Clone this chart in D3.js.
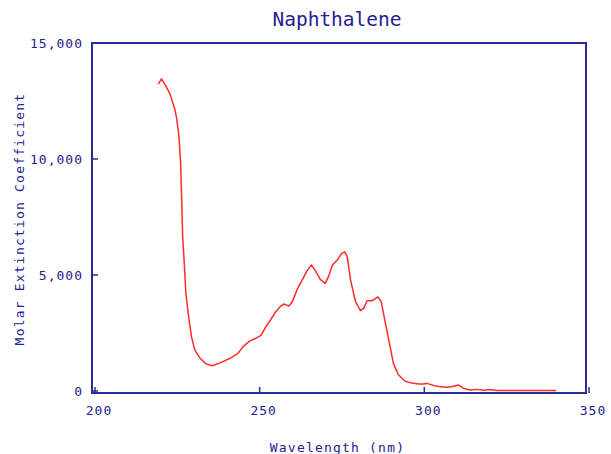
<!DOCTYPE html>
<html>
<head>
<meta charset="utf-8">
<script src="https://cdn.jsdelivr.net/npm/d3@7"></script>
<style>
  body { margin: 0; background: #fff; }
  text { font-family: "DejaVu Sans Mono", monospace; fill: #22228f; }
</style>
</head>
<body>
<script>
// Naphthalene absorption spectrum
const title = 'Naphthalene'
const xLabel = 'Wavelength (nm)'
const yLabel = 'Molar Extinction Coefficient'

const wavelength = [
  219.2, 220.2, 221.5, 222.7, 224.3, 224.8, 225.5, 226.0, 226.3, 226.6,
  227.1, 227.6, 228.3, 229.3, 230.3, 231.9, 233.8, 235.6, 237.8, 240.9,
  243.4, 244.9, 246.9, 248.5, 250.4, 251.9, 253.4, 254.9, 256.4, 257.4,
  258.9, 259.9, 261.4, 262.9, 264.4, 265.7, 266.9, 268.4, 269.9, 270.9,
  272.1, 273.6, 274.9, 275.8, 276.6, 277.6, 279.1, 280.6, 281.6, 282.6,
  284.1, 285.9, 286.9, 287.6, 288.6, 289.6, 290.6, 292.1, 294.2, 296.2,
  298.2, 299.8, 300.8, 303.3, 306.3, 308.3, 310.3, 311.8, 313.9, 316.0,
  318.0, 320.0, 322.0, 340.0
]
const extinction = [
  13230, 13450, 13150, 12830, 12110, 11750, 10960, 9810, 8370, 6720,
  5520, 4210, 3350, 2340, 1770, 1410, 1160, 1090, 1200, 1400,
  1620, 1900, 2150, 2250, 2400, 2770, 3090, 3420, 3660, 3750,
  3660, 3850, 4380, 4780, 5190, 5430, 5190, 4810, 4640, 4930,
  5430, 5650, 5930, 6000, 5790, 4780, 3850, 3460, 3560, 3890,
  3890, 4060, 3850, 3350, 2630, 1910, 1190, 700, 420, 340,
  300, 300, 330, 220, 160, 180, 260, 120, 40, 70,
  30, 60, 20, 20
]

const xTicks = [200, 250, 300, 350]
const yTicks = [0, 5000, 10000, 15000]

const width = 611
const height = 454
const navy = '#2a2a96'

const svg = d3.select('body').append('svg')
    .attr('width', width)
    .attr('height', height)

// the frame sits a couple of px outside the data range, like the original
const frame = {left: 92, right: 586, top: 43, bottom: 393}

const x = d3.scaleLinear().domain([200, 350]).range([95, 589])
const y = d3.scaleLinear().domain([0, 15000]).range([391, 43])

svg.append('rect')
    .attr('x', frame.left)
    .attr('y', frame.top)
    .attr('width', frame.right - frame.left)
    .attr('height', frame.bottom - frame.top)
    .attr('fill', 'none')
    .attr('stroke', navy)
    .attr('stroke-width', 2)

// x ticks point up from the bottom edge
const xAxis = svg.append('g')
xAxis.selectAll('line')
  .data(xTicks).enter()
  .append('line')
    .attr('x1', d => x(d))
    .attr('x2', d => x(d))
    .attr('y1', frame.bottom)
    .attr('y2', frame.bottom - 6)
    .attr('stroke', navy)
    .attr('stroke-width', 1.5)
xAxis.selectAll('text')
  .data(xTicks).enter()
  .append('text')
    .attr('x', d => x(d) + 4)
    .attr('y', 415)
    .attr('text-anchor', 'middle')
    .style('font-size', '13px')
    .style('letter-spacing', '1px')
    .text(d => d)

// y ticks point right into the plot
const fmt = d3.format(',')
const yAxis = svg.append('g')
yAxis.selectAll('line')
  .data(yTicks).enter()
  .append('line')
    .attr('x1', frame.left)
    .attr('x2', frame.left + 6)
    .attr('y1', d => y(d))
    .attr('y2', d => y(d))
    .attr('stroke', navy)
    .attr('stroke-width', 1.5)
yAxis.selectAll('text')
  .data(yTicks).enter()
  .append('text')
    .attr('x', 83)
    .attr('y', d => y(d) + 5)
    .attr('text-anchor', 'end')
    .style('font-size', '13px')
    .style('letter-spacing', '1px')
    .text(d => fmt(d))

// spectrum
const points = wavelength.map((w, i) => [w, extinction[i]])
const line = d3.line()
    .x(d => x(d[0]))
    .y(d => y(d[1]))

svg.append('path')
    .datum(points)
    .attr('d', line)
    .attr('fill', 'none')
    .attr('stroke', '#ff2a2a')
    .attr('stroke-width', 1.5)
    .attr('stroke-linejoin', 'round')

// labels
svg.append('text')
    .attr('x', 337)
    .attr('y', 26)
    .attr('text-anchor', 'middle')
    .style('font-size', '19.5px')
    .text(title)

svg.append('text')
    .attr('x', 337.5)
    .attr('y', 452)
    .attr('text-anchor', 'middle')
    .style('font-size', '13px')
    .style('letter-spacing', '1.2px')
    .text(xLabel)

svg.append('text')
    .attr('transform', 'translate(24,219) rotate(-90)')
    .attr('text-anchor', 'middle')
    .style('font-size', '13px')
    .style('letter-spacing', '1.2px')
    .text(yLabel)
</script>
</body>
</html>
